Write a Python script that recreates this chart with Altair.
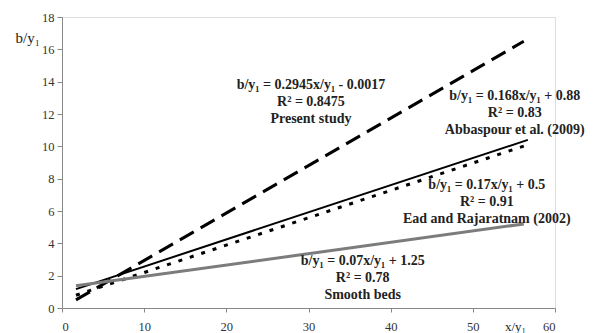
import altair as alt
import pandas as pd

# Line endpoints (x/y1, b/y1)
series = ["Present study", "Abbaspour et al. (2009)", "Ead and Rajaratnam (2002)", "Smooth beds"]
x_start = [1.7, 1.7, 1.7, 1.7]
y_start = [0.5, 1.17, 0.79, 1.37]
x_end = [56.2, 56.7, 56.7, 56.2]
y_end = [16.5, 10.4, 10.1, 5.2]

# Annotation text lines
label_text = [
    "b/y₁ = 0.2945x/y₁ - 0.0017", "R² = 0.8475", "Present study",
    "b/y₁ = 0.168x/y₁ + 0.88", "R² = 0.83", "Abbaspour et al. (2009)",
    "b/y₁ = 0.17x/y₁ + 0.5", "R² = 0.91", "Ead and Rajaratnam (2002)",
    "b/y₁ = 0.07x/y₁ + 1.25", "R² = 0.78", "Smooth beds",
]
label_x = [30.3, 30.3, 30.3, 55.1, 55.1, 55.1, 51.7, 51.7, 51.7, 36.6, 36.6, 36.6]
label_y = [13.8, 12.75, 11.7, 13.1, 12.06, 11.0, 7.6, 6.55, 5.5, 2.9, 1.85, 0.8]

styles = {
    "Present study": dict(color="black", strokeWidth=3, strokeDash=[16, 8]),
    "Abbaspour et al. (2009)": dict(color="black", strokeWidth=2),
    "Ead and Rajaratnam (2002)": dict(color="black", strokeWidth=3, strokeDash=[4, 8]),
    "Smooth beds": dict(color="#7c7c7c", strokeWidth=3),
}

rows = []
for s, xs, ys, xe, ye in zip(series, x_start, y_start, x_end, y_end):
    rows.append({"series": s, "x": xs, "y": ys, "o": 0})
    rows.append({"series": s, "x": xe, "y": ye, "o": 1})
df = pd.DataFrame(rows)
labels = pd.DataFrame({"x": label_x, "y": label_y, "text": label_text})

xscale = alt.Scale(domain=[0, 60], nice=False, zero=False)
yscale = alt.Scale(domain=[0, 18], nice=False)

xaxis = alt.Axis(values=list(range(0, 61, 10)), grid=False, title="x/y₁",
                 titleFont="Liberation Serif", titleFontSize=13, titleFontWeight="normal",
                 titleAngle=0, titleBaseline="middle", titleX=453, titleY=18, titleColor="#222",
                 labelFont="Liberation Serif", labelFontSize=12.5, labelColor="#333",
                 labelPadding=8, tickSize=4, tickColor="#888", domainColor="#888")
yaxis = alt.Axis(values=list(range(0, 19, 2)), grid=False, title="b/y₁",
                 titleFont="Liberation Serif", titleFontSize=15, titleFontWeight="normal",
                 titleAngle=0, titleAlign="left", titleBaseline="middle",
                 titleX=-47, titleY=20, titleColor="#222",
                 labelFont="Liberation Serif", labelFontSize=12.5, labelColor="#333",
                 labelPadding=3, tickSize=5, tickColor="#888", domainColor="#888")

X = alt.X("x:Q", scale=xscale, axis=xaxis)
Y = alt.Y("y:Q", scale=yscale, axis=yaxis)

layers = []
for s in series:
    st = styles[s]
    kw = dict(color=st["color"], strokeWidth=st["strokeWidth"])
    if "strokeDash" in st:
        kw["strokeDash"] = st["strokeDash"]
    layers.append(
        alt.Chart(df).transform_filter(alt.datum.series == s).mark_line(**kw).encode(
            x=X, y=Y, order="o:Q")
    )

text = alt.Chart(labels).mark_text(
    font="Liberation Serif", fontSize=14, fontWeight="bold", color="#222",
    align="center", baseline="middle"
).encode(x=X, y=Y, text="text:N")

chart = alt.layer(*layers, text).properties(
    width=493, height=291,
    autosize=alt.AutoSizeParams(type="none"),
    padding={"left": 62, "top": 17, "right": 41, "bottom": 25},
).configure_view(stroke=None).configure(background="white")

chart.save("out.html", embed_options={"renderer": "svg", "actions": False})
